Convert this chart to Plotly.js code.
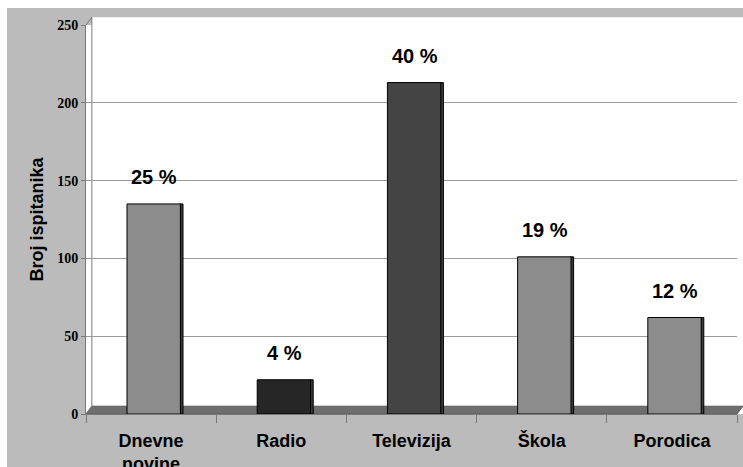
<!DOCTYPE html>
<html>
<head>
<meta charset="utf-8">
<script src="https://cdn.plot.ly/plotly-3.0.1.min.js"></script>
<style>
html,body{margin:0;padding:0;background:#ffffff;overflow:hidden;}
#chart{position:absolute;left:7px;top:8px;width:736px;height:459px;}
</style>
</head>
<body>
<div id="chart"></div>
<script>
const categories = ["Dnevne<br>novine", "Radio", "Televizija", "Škola", "Porodica"];
const counts = [135, 22, 213, 101, 62];
const percentLabels = ["25 %", "4 %", "40 %", "19 %", "12 %"];
const barColors = ["#8c8c8c", "#262626", "#444444", "#8c8c8c", "#8c8c8c"];
const yTicks = [0, 50, 100, 150, 200, 250];

const sideFace = {
  type: "bar",
  x: categories,
  y: counts,
  width: 0.025,
  offset: 0.22,
  marker: {color: "#3a3a3a", line: {color: "#000000", width: 1}},
  hoverinfo: "none"
};

const trace = {
  type: "bar",
  x: categories,
  y: counts,
  width: 0.41,
  offset: -0.185,
  marker: {color: barColors, line: {color: "#000000", width: 1}},
  hoverinfo: "none"
};

const annotations = categories.map((c, i) => ({
  x: c, y: counts[i], xref: "x", yref: "y",
  text: percentLabels[i], showarrow: false,
  yshift: 27, xshift: 3,
  font: {family: "Liberation Sans, Arial", size: 20, color: "#000000", weight: "bold"}
}));

const layout = {
  width: 736, height: 459,
  margin: {l: 79, r: 6, t: 17, b: 53},
  paper_bgcolor: "#bbbbbb",
  plot_bgcolor: "#ffffff",
  showlegend: false,
  barmode: "overlay",
  xaxis: {
    type: "category",
    showgrid: false,
    showline: true, linecolor: "#7a7a7a", linewidth: 1,
    ticks: "outside", ticklen: 8, tickcolor: "#7a7a7a",
    tickson: "boundaries",
    ticklabelstandoff: 10,
    tickfont: {family: "Liberation Sans, Arial", size: 18, color: "#000000", weight: "bold"},
    fixedrange: true
  },
  yaxis: {
    range: [0, 250],
    tickvals: yTicks,
    ticktext: yTicks.map(String),
    showgrid: true, gridcolor: "#9a9a9a", gridwidth: 1,
    zeroline: false,
    showline: true, linecolor: "#7a7a7a", linewidth: 1,
    ticks: "outside", ticklen: 4, tickcolor: "#7a7a7a",
    tickfont: {family: "Liberation Serif, Times New Roman", size: 14, color: "#000000", weight: "bold"},
    title: {text: "Broj ispitanika", standoff: 8,
            font: {family: "Liberation Sans, Arial", size: 18, color: "#000000", weight: "bold"}},
    fixedrange: true
  },
  shapes: [
    {type: "rect", xref: "paper", yref: "paper", x0: 0.009, x1: 1.05, y0: 0, y1: 1.02,
     fillcolor: "#ffffff", line: {width: 0}, layer: "below"},
    {type: "path", xref: "paper", yref: "paper",
     path: "M 0 0 L 1 0 L 1.009 0.02 L 0.009 0.02 Z",
     fillcolor: "#6e6e6e", line: {color: "#5a5a5a", width: 1}, layer: "below"},
    {type: "path", xref: "paper", yref: "paper",
     path: "M 0 1 L 0.009 1.02 L 0.009 0.02 L 0 0",
     line: {color: "#7a7a7a", width: 1}, layer: "below"}
  ],
  annotations: annotations
};

Plotly.newPlot("chart", [sideFace, trace], layout, {displayModeBar: false, staticPlot: true});
</script>
</body>
</html>
